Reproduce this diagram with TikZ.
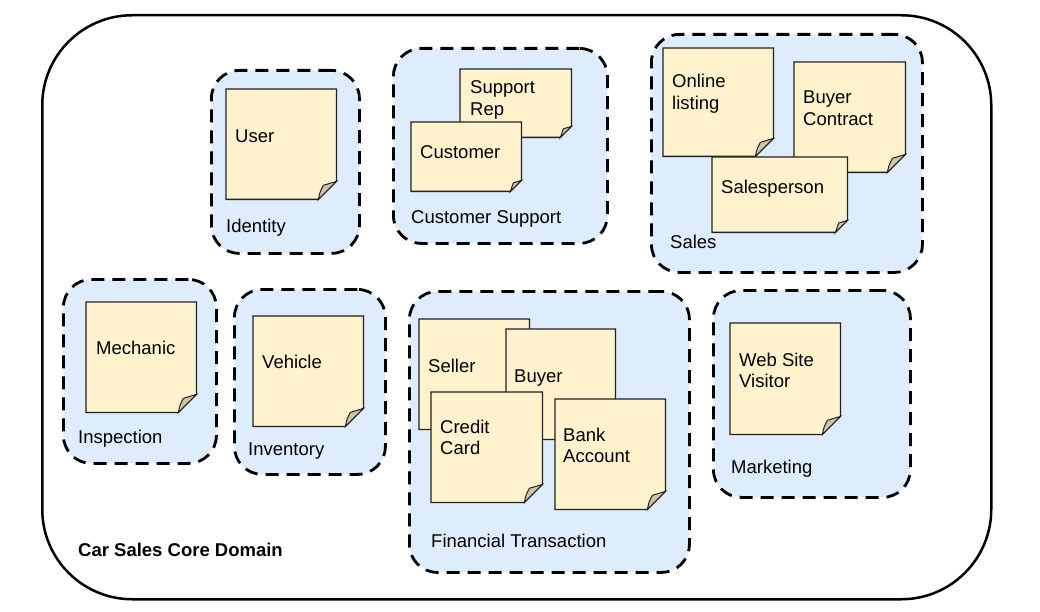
\documentclass[tikz,border=0pt]{standalone}
\usepackage{fontspec}
\setmainfont{Liberation Sans}
\usetikzlibrary{calc}
\definecolor{domfill}{RGB}{221,237,253}
\definecolor{notefill}{RGB}{255,242,204}
\definecolor{foldfill}{RGB}{206,197,168}
\definecolor{noteline}{RGB}{34,34,34}
\newcommand{\tl}[2]{\begin{tabular}[t]{@{}l@{}}#1\\#2\end{tabular}}
\newcommand{\sticky}[6]{%
  \node[notebox, minimum width=#4pt, minimum height=#5pt] (#1) at (#2,#3) {};
  \path[notebody] (#1.north west) -- (#1.north east) -- ([yshift=#6pt]#1.south east)
     -- ([xshift=-#6pt]#1.south east) -- (#1.south west) -- cycle;
  \path[notefold] ([yshift=#6pt]#1.south east)
     .. controls ([shift={(-0.4*#6pt,0.92*#6pt)}]#1.south east) .. ([shift={(-0.73*#6pt,0.78*#6pt)}]#1.south east)
     .. controls ([shift={(-0.92*#6pt,0.4*#6pt)}]#1.south east) .. ([xshift=-#6pt]#1.south east) -- cycle;
}
\begin{document}
\begin{tikzpicture}[x=1pt,y=-1pt,
  core/.style={draw=black, line width=2.5pt, rounded corners=90pt, rectangle, inner sep=0pt, anchor=north west},
  dombox/.style={draw=black, fill=domfill, line width=2.8pt, dash pattern=on 13pt off 8pt, rounded corners=28pt, rectangle, inner sep=0pt, anchor=north west},
  notebox/.style={rectangle, draw=none, inner sep=0pt, anchor=north west},
  notebody/.style={fill=notefill, draw=noteline, line width=1.3pt, line join=miter},
  notefold/.style={fill=foldfill, draw=noteline, line width=1pt},
  txt/.style={anchor=base west, inner sep=0pt, font=\fontsize{18.5}{21.7}\selectfont},
  btxt/.style={txt, font=\fontsize{18.5}{21.7}\selectfont\bfseries}]
\useasboundingbox (0,0) rectangle (1040,612);
% core domain
\node[core, minimum width=949pt, minimum height=584pt] (core) at (41,14) {};
\node[btxt] (corelbl) at (78,556) {Car Sales Core Domain};
% subdomains
\node[dombox, minimum width=148pt, minimum height=183pt] (identity) at (210,69) {};
\node[dombox, minimum width=214pt, minimum height=195pt] (support) at (392,47) {};
\node[dombox, minimum width=271pt, minimum height=238pt] (sales) at (650,33) {};
\node[dombox, minimum width=153pt, minimum height=184pt] (inspection) at (62,278) {};
\node[dombox, minimum width=151pt, minimum height=185pt] (inventory) at (233,288) {};
\node[dombox, minimum width=280pt, minimum height=281pt] (financial) at (408,290) {};
\node[dombox, minimum width=197pt, minimum height=207pt] (marketing) at (712,289) {};
% Identity
\sticky{user}{226}{89}{110}{110}{18}
\node[txt] (usert) at (235,143) {User};
\node[txt] (identityl) at (226,233) {Identity};
% Customer Support
\sticky{srep}{460}{69}{111}{68}{11}
\node[txt] (srept) at (470,94) {\tl{Support}{Rep}};
\sticky{cust}{411}{122}{110}{69}{11}
\node[txt] (custt) at (420,159) {Customer};
\node[txt] (supportl) at (411,223) {Customer Support};
% Sales
\sticky{online}{663}{48}{110}{108}{18}
\node[txt] (onlinet) at (672,88) {\tl{Online}{listing}};
\sticky{bcontract}{794}{62}{111}{110}{18}
\node[txt] (bcontractt) at (803,104) {\tl{Buyer}{Contract}};
\sticky{salesp}{712}{157}{135}{75}{12}
\node[txt] (salespt) at (721,194) {Salesperson};
\node[txt] (salesl) at (670,248) {Sales};
% Inspection
\sticky{mech}{86}{302}{110}{110}{18}
\node[txt] (mecht) at (96,354) {Mechanic};
\node[txt] (inspectionl) at (78,443) {Inspection};
% Inventory
\sticky{vehicle}{253}{316}{110}{110}{18}
\node[txt] (vehiclet) at (262,368) {Vehicle};
\node[txt] (inventoryl) at (248,455) {Inventory};
% Financial Transaction
\sticky{seller}{419}{319}{110}{110}{18}
\node[txt] (sellert) at (428,372) {Seller};
\sticky{buyer}{506}{329}{109}{110}{18}
\node[txt] (buyert) at (514,382) {Buyer};
\sticky{ccard}{431}{392}{111}{110}{18}
\node[txt] (ccardt) at (440,433) {\tl{Credit}{Card}};
\sticky{bank}{555}{399}{110}{110}{18}
\node[txt] (bankt) at (563,441) {\tl{Bank}{Account}};
\node[txt] (financiall) at (431,547) {Financial Transaction};
% Marketing
\sticky{visitor}{730}{323}{110}{111}{18}
\node[txt] (visitort) at (739,366) {\tl{Web Site}{Visitor}};
\node[txt] (marketingl) at (731,473) {Marketing};
\end{tikzpicture}
\end{document}
